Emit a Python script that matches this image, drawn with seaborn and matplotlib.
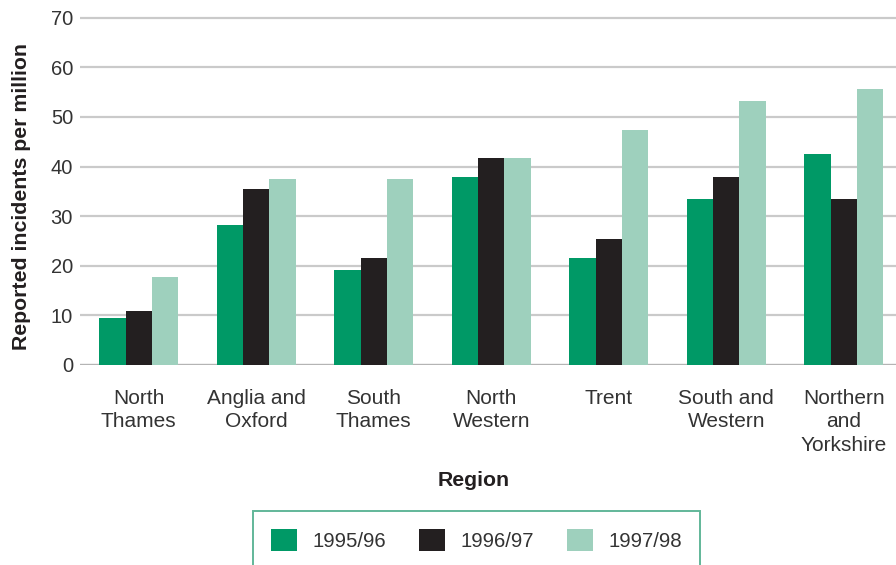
import matplotlib
matplotlib.use("Agg")
import matplotlib.pyplot as plt
import seaborn as sns
import pandas as pd
from matplotlib.patches import Patch

# Regional incident rates per million, three reporting years
regions = ["North\nThames", "Anglia and\nOxford", "South\nThames", "North\nWestern",
           "Trent", "South and\nWestern", "Northern\nand\nYorkshire"]
years = ["1995/96", "1996/97", "1997/98"]
v_1995 = [9.5, 28.2, 19.2, 37.9, 21.6, 33.5, 42.6]
v_1996 = [10.9, 35.5, 21.6, 41.8, 25.4, 37.9, 33.5]
v_1997 = [17.7, 37.4, 37.4, 41.8, 47.4, 53.3, 55.7]
colors = ["#009966", "#231f20", "#9ed0bd"]

df = pd.DataFrame({
    "Region": regions * 3,
    "Year": [years[0]] * 7 + [years[1]] * 7 + [years[2]] * 7,
    "Value": v_1995 + v_1996 + v_1997,
})

sns.set_theme(style="white")
plt.rcParams["font.family"] = ["Liberation Sans", "DejaVu Sans"]

W, H = 896, 565
fig = plt.figure(figsize=(W / 100, H / 100), dpi=100)
px_per_unit = 347.3 / 70
y0_px, top_px, left_px, right_px = 365, 10, 80, 902.5
ax_w = right_px - left_px
ax_h = y0_px - top_px
ax = fig.add_axes([left_px / W, 1 - y0_px / H, ax_w / W, ax_h / H])

sns.barplot(data=df, x="Region", y="Value", hue="Year", hue_order=years,
            palette=colors, saturation=1, width=0.67, errorbar=None,
            legend=False, ax=ax, zorder=3)
for p in ax.patches:
    p.set_edgecolor("none")

ax.set_xlim(-0.5, 6.5)
ax.set_ylim(0, ax_h / px_per_unit)
ax.set_yticks(range(0, 71, 10))
ax.yaxis.grid(True, color="#cacaca", linewidth=1.6, zorder=0)
ax.set_axisbelow(True)
for s in ax.spines.values():
    s.set_visible(False)
ax.axhline(0, color="#b4b4b4", linewidth=1.6, zorder=2)

text_col = "#333333"
ax.tick_params(axis="y", length=0, pad=5, labelsize=14.5, labelcolor=text_col)
ax.tick_params(axis="x", length=0, pad=17, labelsize=15, labelcolor=text_col)
for t in ax.get_xticklabels():
    t.set_linespacing(1.32)
    t.set_verticalalignment("top")

ax.set_ylabel("Reported incidents per million", fontsize=15.3, fontweight="bold",
              color="#231f20")
ax.yaxis.set_label_coords((31 - left_px) / ax_w, (y0_px - 197) / ax_h)
ax.set_xlabel("")
fig.text(474 / W, 1 - 481 / H, "Region", ha="center", va="center",
         fontsize=15.3, fontweight="bold", color="#231f20")

handles = [Patch(facecolor=c, edgecolor="none", label=y) for c, y in zip(colors, years)]
leg = fig.legend(handles=handles, loc="center", ncol=3,
                 bbox_to_anchor=(253 / W, 1 - 568 / H, (700 - 253) / W, (568 - 512) / H),
                 mode="expand", frameon=True, fancybox=False, fontsize=14.7,
                 handlelength=1.25, handleheight=1.25, handletextpad=0.75,
                 columnspacing=1.2, borderpad=0.9, borderaxespad=0)
leg.get_frame().set_edgecolor("#3aa57f")
leg.get_frame().set_linewidth(1.4)
for t in leg.get_texts():
    t.set_color(text_col)

fig.savefig("out.png", dpi=100)
